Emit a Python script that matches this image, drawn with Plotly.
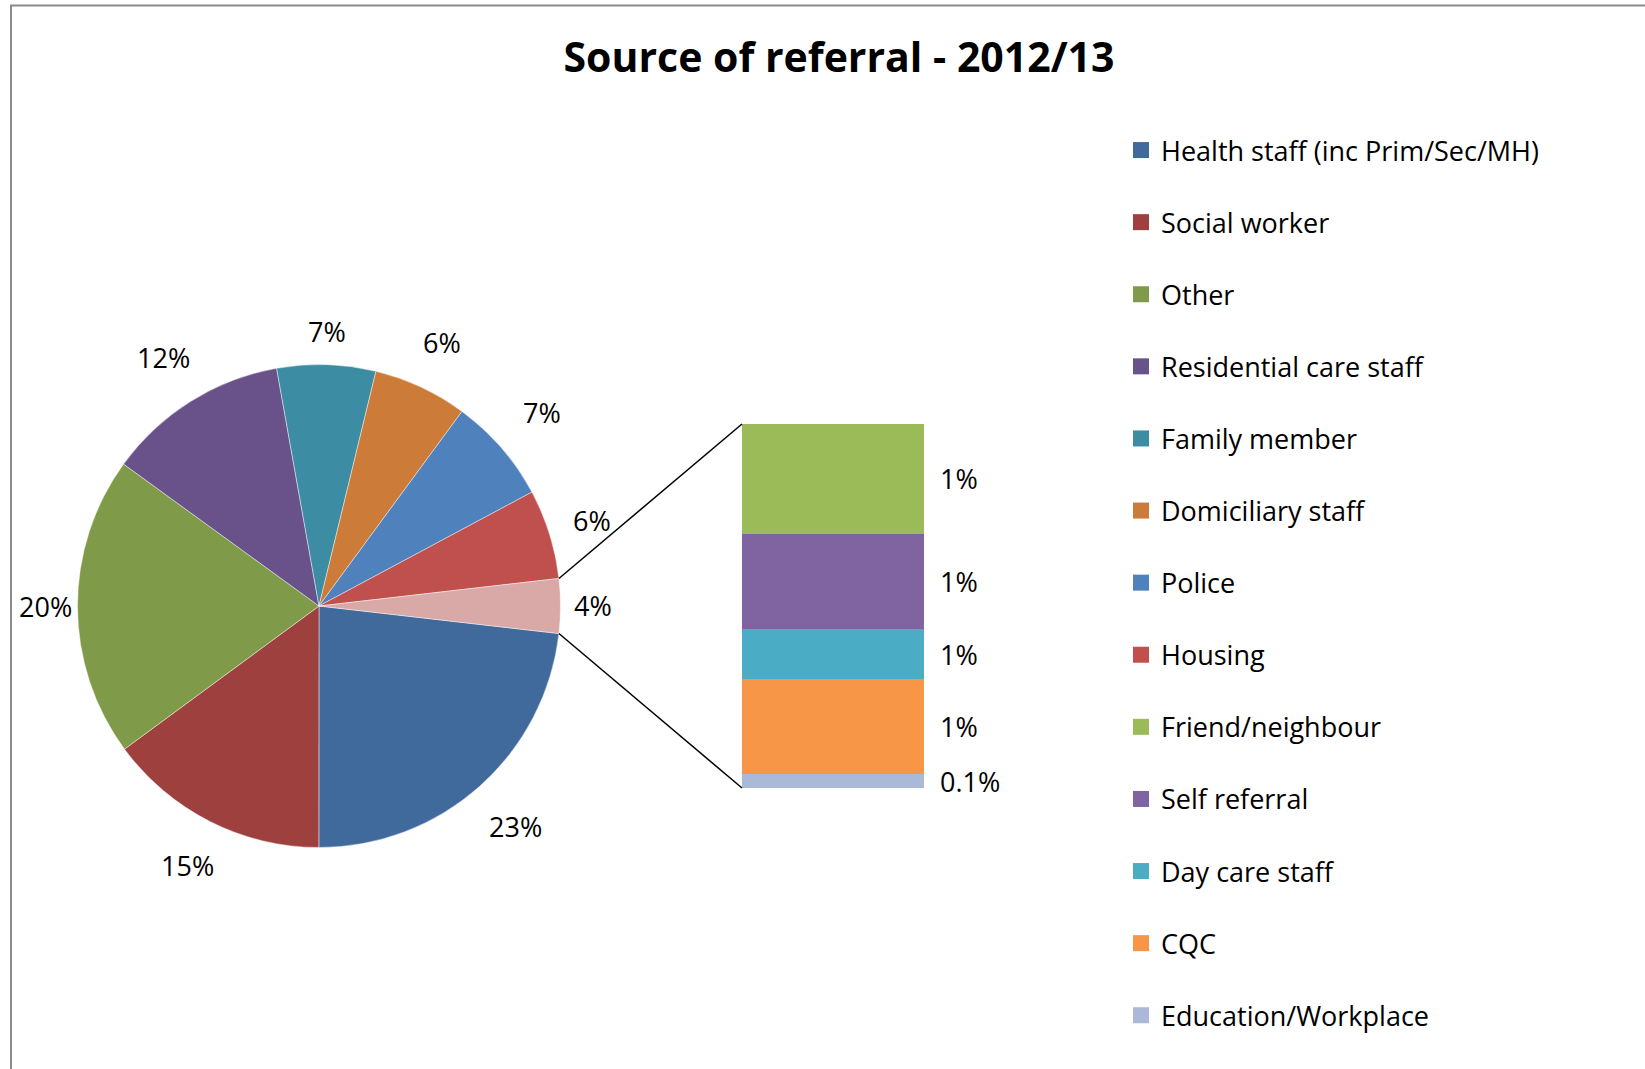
import math
import plotly.graph_objects as go

W, H = 1645, 1069
FONT = "Open Sans"
FS = 27

# Main pie categories (percent of all referrals)
main_labels = [
    "Health staff (inc Prim/Sec/MH)", "Social worker", "Other",
    "Residential care staff", "Family member", "Domiciliary staff",
    "Police", "Housing",
]
main_values = [23.2, 14.9, 20.1, 12.2, 6.6, 6.3, 7.1, 6.0]
main_colors = [
    "#416A9C", "#9E413E", "#7F9A48", "#69518A",
    "#3C8CA3", "#CC7B38", "#4F81BD", "#C0504D",
]

# Smaller sources, split out into the stacked bar
sub_labels = ["Friend/neighbour", "Self referral", "Day care staff", "CQC", "Education/Workplace"]
sub_values = [1.1, 0.95, 0.5, 0.95, 0.14]
sub_colors = ["#9BBB59", "#8064A2", "#4BACC6", "#F79646", "#AAB9D7"]

combined_color = "#D9A9A8"
combined_value = sum(sub_values)


def pct_text(v):
    # whole percent, except very small shares which keep one decimal
    if v < 0.5:
        return f"{v:.1f}%"
    return f"{int(v + 0.5)}%"


# ---- layout geometry (pixels) ----
pie_cx, pie_cy, pie_r = 319, 606, 241.5
bar_left, bar_right, bar_top, bar_bottom = 742, 924, 424, 788


def to_paper(px, py):
    return px / W, 1 - py / H


pie_dom_x = [(pie_cx - pie_r) / W, (pie_cx + pie_r) / W]
pie_dom_y = [1 - (pie_cy + pie_r) / H, 1 - (pie_cy - pie_r) / H]

pie_values = main_values + [combined_value]
total = sum(pie_values)
half_angle = combined_value / total * 180.0  # degrees

fig = go.Figure()

# first slice starts just below 3 o'clock so the split-out slice faces the bar
fig.add_trace(go.Pie(
    labels=main_labels + ["Smaller sources"],
    values=pie_values,
    sort=False,
    direction="clockwise",
    rotation=90 + half_angle,
    marker=dict(colors=main_colors + [combined_color],
                line=dict(color="rgba(255,255,255,0.55)", width=0.8)),
    textinfo="none",
    domain=dict(x=pie_dom_x, y=pie_dom_y),
    showlegend=False,
    hoverinfo="label+percent",
))

# stacked bar: bottom segment first
for lab, val, col in reversed(list(zip(sub_labels, sub_values, sub_colors))):
    fig.add_trace(go.Bar(
        x=[0], y=[val], width=1, name=lab,
        marker=dict(color=col, line=dict(width=0)),
        xaxis="x", yaxis="y", showlegend=False,
        hovertemplate=lab + ": " + pct_text(val) + "<extra></extra>",
    ))

# legend entries
for lab, col in zip(main_labels + sub_labels, main_colors + sub_colors):
    fig.add_trace(go.Scatter(
        x=[None], y=[None], mode="markers", name=lab, legendgroup=lab,
        marker=dict(symbol="square", size=18, color=col),
        showlegend=True, xaxis="x", yaxis="y",
    ))

annotations = []

# percentage labels outside each pie slice, placed along the slice mid-angle
angle = -half_angle  # start of first slice (degrees, counter-clockwise from 3 o'clock)
for val in pie_values:
    span = val / total * 360.0
    mid = math.radians(angle - span / 2)
    angle -= span
    dist = pie_r + 32 + 22 * abs(math.sin(2 * mid))
    lx, ly = to_paper(pie_cx + dist * math.cos(mid), pie_cy - dist * math.sin(mid))
    annotations.append(dict(
        x=lx, y=ly, xref="paper", yref="paper", text=pct_text(val / total * 100),
        showarrow=False, xanchor="center", yanchor="middle",
        font=dict(family=FONT, size=FS, color="#000000"),
    ))

# value labels to the right of each bar segment
base = 0.0
for lab, val in reversed(list(zip(sub_labels, sub_values))):
    annotations.append(dict(
        x=0.5, y=base + val / 2, xref="x", yref="y",
        text=pct_text(val), showarrow=False, xanchor="left", yanchor="middle",
        xshift=14, font=dict(family=FONT, size=FS, color="#000000"),
    ))
    base += val

# connector lines from the split-out slice to the bar corners
a = math.radians(half_angle)
p_top = (pie_cx + pie_r * math.cos(a), pie_cy - pie_r * math.sin(a))
p_bot = (pie_cx + pie_r * math.cos(a), pie_cy + pie_r * math.sin(a))

shapes = []
for (x0, y0), (x1, y1) in [(p_top, (bar_left, bar_top)), (p_bot, (bar_left, bar_bottom))]:
    ax0, ay0 = to_paper(x0, y0)
    ax1, ay1 = to_paper(x1, y1)
    shapes.append(dict(type="line", xref="paper", yref="paper",
                       x0=ax0, y0=ay0, x1=ax1, y1=ay1,
                       line=dict(color="#000000", width=1.5)))

# chart area frame (top and left edges)
frame = "#8A8A8A"
shapes.append(dict(type="line", xref="paper", yref="paper",
                   x0=10 / W, y0=1 - 5.5 / H, x1=1, y1=1 - 5.5 / H,
                   line=dict(color=frame, width=2)))
shapes.append(dict(type="line", xref="paper", yref="paper",
                   x0=11 / W, y0=1 - 5.5 / H, x1=11 / W, y1=0,
                   line=dict(color=frame, width=2)))

fig.update_layout(
    width=W, height=H,
    margin=dict(l=0, r=0, t=0, b=0),
    paper_bgcolor="#FFFFFF", plot_bgcolor="rgba(0,0,0,0)",
    barmode="stack",
    title=dict(text="<b>Source of referral - 2012/13</b>",
               x=839 / W, xanchor="center", y=1 - 58 / H, yanchor="middle",
               font=dict(family=FONT, size=41, color="#000000")),
    xaxis=dict(domain=[bar_left / W, bar_right / W], range=[-0.5, 0.5],
               visible=False, fixedrange=True),
    yaxis=dict(domain=[1 - bar_bottom / H, 1 - bar_top / H], range=[0, combined_value],
               visible=False, fixedrange=True),
    legend=dict(x=1121 / W, y=1 - 126 / H, xanchor="left", yanchor="top",
                traceorder="grouped", tracegroupgap=34,
                font=dict(family=FONT, size=FS, color="#000000"),
                bgcolor="rgba(0,0,0,0)", itemclick=False, itemdoubleclick=False),
    annotations=annotations,
    shapes=shapes,
    hovermode="closest",
)

fig.write_html("out.html")
